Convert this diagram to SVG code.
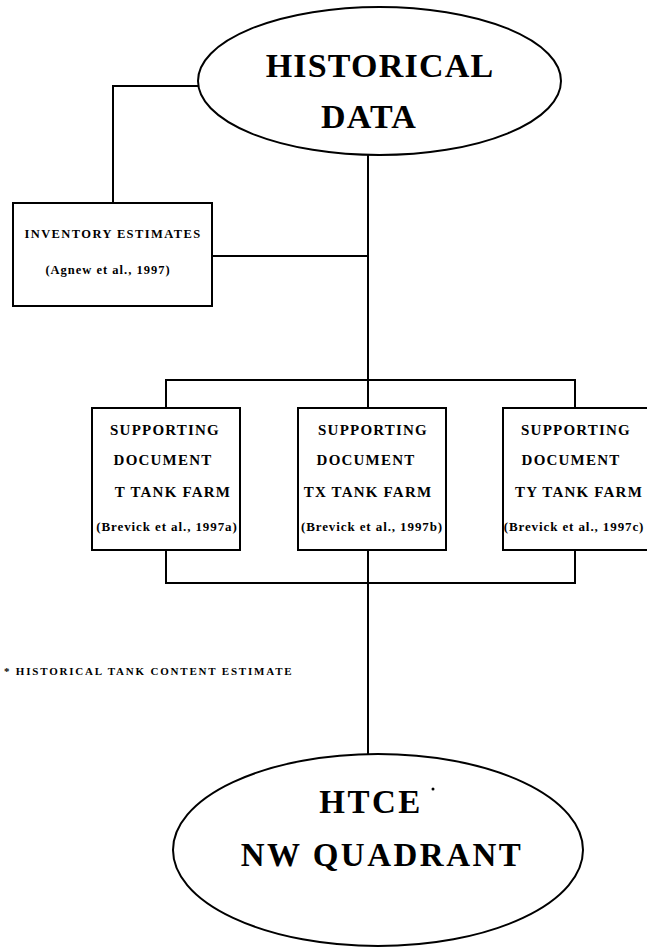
<svg xmlns="http://www.w3.org/2000/svg" width="647" height="948" viewBox="0 0 647 948">
<style>
.shape{fill:#fff;stroke:#000;stroke-width:2}
.conn{fill:none;stroke:#000;stroke-width:2}
text{font-family:"Liberation Serif","Times New Roman",serif;font-weight:bold;fill:#000;text-anchor:middle}
.big{font-size:34px;letter-spacing:1.2px}
.big2{font-size:33px;letter-spacing:2.5px}
.inv{font-size:12.5px;letter-spacing:1.4px}
.ref{font-size:12.5px;letter-spacing:1px}
.sd{font-size:15px;letter-spacing:1.2px}
.bref{font-size:13px;letter-spacing:0.9px}
.note{font-size:11px;letter-spacing:1.8px;text-anchor:start}
</style>
<rect width="647" height="948" fill="#fff"/>
<g id="connectors">
<path class="conn" d="M198,86 H113 V203"/>
<path class="conn" d="M368,155 V380"/>
<path class="conn" d="M212,256 H368"/>
<path class="conn" d="M166,408 V380 H575 V408"/>
<path class="conn" d="M368,380 V408"/>
<path class="conn" d="M166,550 V583 H575 V550"/>
<path class="conn" d="M368,550 V754"/>
</g>
<g id="historical-data">
<ellipse class="shape" cx="379.5" cy="81" rx="181.5" ry="74"/>
<text class="big" x="380" y="77">HISTORICAL</text>
<text class="big" x="369" y="128">DATA</text>
</g>
<g id="inventory-estimates">
<rect class="shape" x="13" y="203" width="199" height="103"/>
<text class="inv" x="113" y="238">INVENTORY ESTIMATES</text>
<text class="ref" x="108" y="274">(Agnew et al., 1997)</text>
</g>
<g id="sd-t">
<rect class="shape" x="92" y="408" width="148" height="142"/>
<text class="sd" x="165" y="435">SUPPORTING</text>
<text class="sd" x="163" y="465">DOCUMENT</text>
<text class="sd" x="173" y="497">T TANK FARM</text>
<text class="bref" x="167" y="531">(Brevick et al., 1997a)</text>
</g>
<g id="sd-tx">
<rect class="shape" x="298" y="408" width="148" height="142"/>
<text class="sd" x="373" y="435">SUPPORTING</text>
<text class="sd" x="366" y="465">DOCUMENT</text>
<text class="sd" x="368" y="497">TX TANK FARM</text>
<text class="bref" x="372" y="531">(Brevick et al., 1997b)</text>
</g>
<g id="sd-ty">
<rect class="shape" x="503" y="408" width="148" height="142"/>
<text class="sd" x="576" y="435">SUPPORTING</text>
<text class="sd" x="571" y="465">DOCUMENT</text>
<text class="sd" x="579" y="497">TY TANK FARM</text>
<text class="bref" x="574" y="531">(Brevick et al., 1997c)</text>
</g>
<g id="htce">
<ellipse class="shape" cx="378" cy="850" rx="205" ry="96"/>
<text class="big2" x="371" y="813">HTCE</text>
<circle cx="433" cy="789" r="1.5" fill="#000"/>
<text class="big2" x="382" y="866">NW QUADRANT</text>
</g>
<g id="footnote">
<text class="note" x="4" y="675">*  HISTORICAL TANK CONTENT ESTIMATE</text>
</g>
</svg>
